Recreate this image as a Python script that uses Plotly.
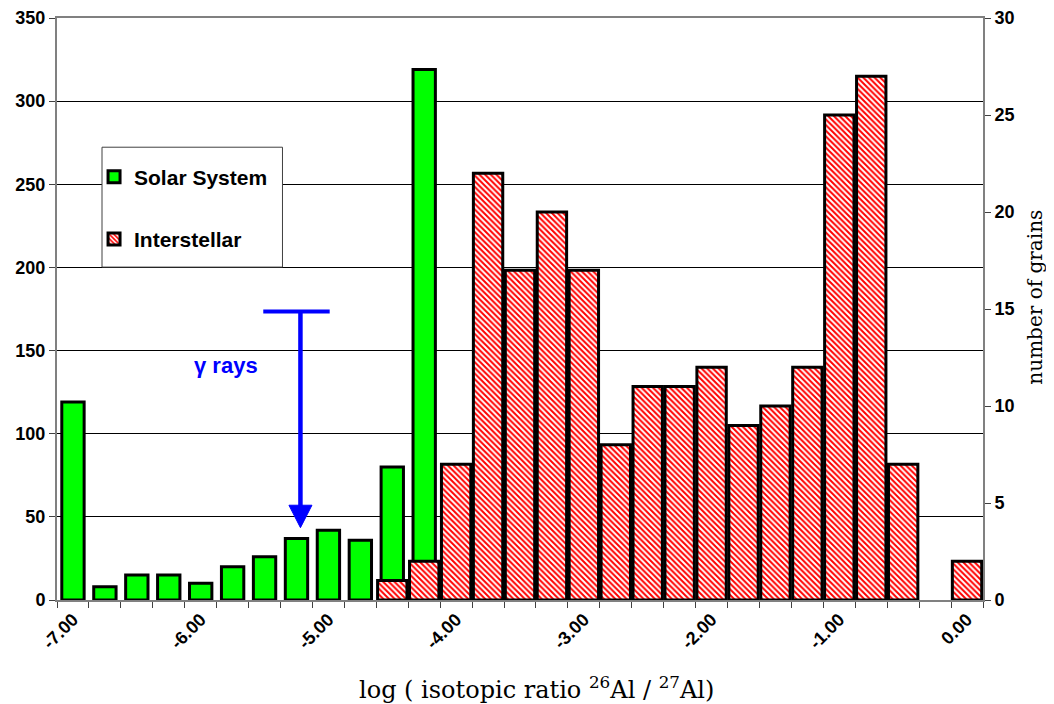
import plotly.graph_objects as go

# ---- data ----
categories = ["-7.00", "-6.75", "-6.50", "-6.25", "-6.00", "-5.75", "-5.50", "-5.25",
              "-5.00", "-4.75", "-4.50", "-4.25", "-4.00", "-3.75", "-3.50", "-3.25",
              "-3.00", "-2.75", "-2.50", "-2.25", "-2.00", "-1.75", "-1.50", "-1.25",
              "-1.00", "-0.75", "-0.50", "-0.25", "0.00"]
solar_system = [119, 8, 15, 15, 10, 20, 26, 37, 42, 36, 80, 319,
                None, None, None, None, None, None, None, None, None, None, None,
                None, None, None, None, None, None]
interstellar = [None, None, None, None, None, None, None, None, None, None,
                1, 2, 7, 22, 17, 20, 17, 8, 11, 11, 12, 9, 10, 12, 25, 27, 7, None, 2]
x_tick_values = [-7, -6, -5, -4, -3, -2, -1, 0]
x_tick_labels = ["-7.00", "-6.00", "-5.00", "-4.00", "-3.00", "-2.00", "-1.00", "0.00"]
left_ticks = [0, 50, 100, 150, 200, 250, 300, 350]
right_ticks = [0, 5, 10, 15, 20, 25, 30]

x_vals = [float(c) for c in categories]
BIN = 0.25

TICK_FONT = dict(family="Liberation Sans", size=18, color="black", weight="bold")
SERIF = "DejaVu Serif"

fig = go.Figure()
fig.add_trace(go.Bar(
    x=x_vals, y=solar_system, name="Solar System", width=0.7 * BIN,
    marker=dict(color="#00FF00", line=dict(color="black", width=3)),
    legendgroup="a", yaxis="y",
))
fig.add_trace(go.Bar(
    x=x_vals, y=interstellar, name="Interstellar", width=0.92 * BIN,
    marker=dict(color="white", line=dict(color="black", width=3),
                pattern=dict(shape="\\", fgcolor="#FF0000", bgcolor="white",
                             size=4, solidity=0.5, fillmode="replace")),
    legendgroup="b", yaxis="y2",
))

# legend box
fig.add_shape(type="rect", xref="paper", yref="paper",
              x0=0.0486, x1=0.2435, y0=0.572, y1=0.778,
              line=dict(color="#404040", width=1), fillcolor="white", layer="above")

# gamma-ray arrow
arrow_x = -5.219
fig.add_shape(type="line", xref="x", yref="y", x0=-5.51, x1=-4.99, y0=173.5, y1=173.5,
              line=dict(color="#0000FF", width=4), layer="above")
fig.add_shape(type="line", xref="x", yref="y", x0=arrow_x, x1=arrow_x, y0=173.5, y1=56,
              line=dict(color="#0000FF", width=4.5), layer="above")
fig.add_shape(type="path", xref="x", yref="y",
              path=f"M {arrow_x-0.09},57 L {arrow_x+0.09},57 L {arrow_x},43.5 Z",
              fillcolor="#0000FF", line=dict(color="#0000FF", width=1), layer="above")
fig.add_annotation(x=-5.80, y=141, xref="x", yref="y", text="γ rays", showarrow=False,
                   font=dict(family="Liberation Sans", size=22, color="#0000FF", weight="bold"))

# axis titles
fig.add_annotation(x=0.518, y=-0.151, xref="paper", yref="paper",
                   text="log ( isotopic ratio <sup>26</sup>Al / <sup>27</sup>Al)",
                   showarrow=False, xanchor="center", yanchor="middle",
                   font=dict(family=SERIF, size=24, color="black"))
fig.add_annotation(x=1.056, y=0.521, xref="paper", yref="paper",
                   text="number of grains", textangle=-90,
                   showarrow=False, xanchor="center", yanchor="middle",
                   font=dict(family=SERIF, size=20, color="black"))

fig.update_layout(
    width=1046, height=696,
    margin=dict(l=49, r=71, t=10, b=104),
    paper_bgcolor="white", plot_bgcolor="white",
    barmode="overlay",
    showlegend=True,
    legend=dict(x=0.040, y=0.762, xanchor="left", yanchor="top",
                bgcolor="rgba(0,0,0,0)", borderwidth=0,
                font=dict(family="Liberation Sans", size=21, color="black", weight="bold"),
                traceorder="grouped", tracegroupgap=32),
    xaxis=dict(
        range=[-7.125, 0.125], automargin=False,
        tickmode="array", tickvals=x_tick_values, ticktext=x_tick_labels,
        ticks="", tickangle=-45, tickfont=TICK_FONT, ticklabeloverflow="allow",
        minor=dict(tick0=-7.125, dtick=BIN, ticks="outside", ticklen=6,
                   tickcolor="#404040", showgrid=False),
        showline=True, linecolor="#808080", linewidth=2, mirror=True,
        showgrid=False, zeroline=False,
    ),
    yaxis=dict(
        range=[0, 350], tickmode="array", tickvals=left_ticks, automargin=False,
        ticks="outside", ticklen=6, tickcolor="#404040", tickfont=TICK_FONT,
        ticklabeloverflow="allow",
        showline=True, linecolor="#808080", linewidth=2,
        showgrid=True, gridcolor="#000000", gridwidth=1, zeroline=False,
    ),
    yaxis2=dict(
        range=[0, 30], tickmode="array", tickvals=right_ticks, automargin=False,
        overlaying="y", side="right",
        ticks="outside", ticklen=6, tickcolor="#404040", tickfont=TICK_FONT,
        ticklabeloverflow="allow",
        showline=True, linecolor="#808080", linewidth=2,
        showgrid=False, zeroline=False,
    ),
)

fig.write_html("out.html")
